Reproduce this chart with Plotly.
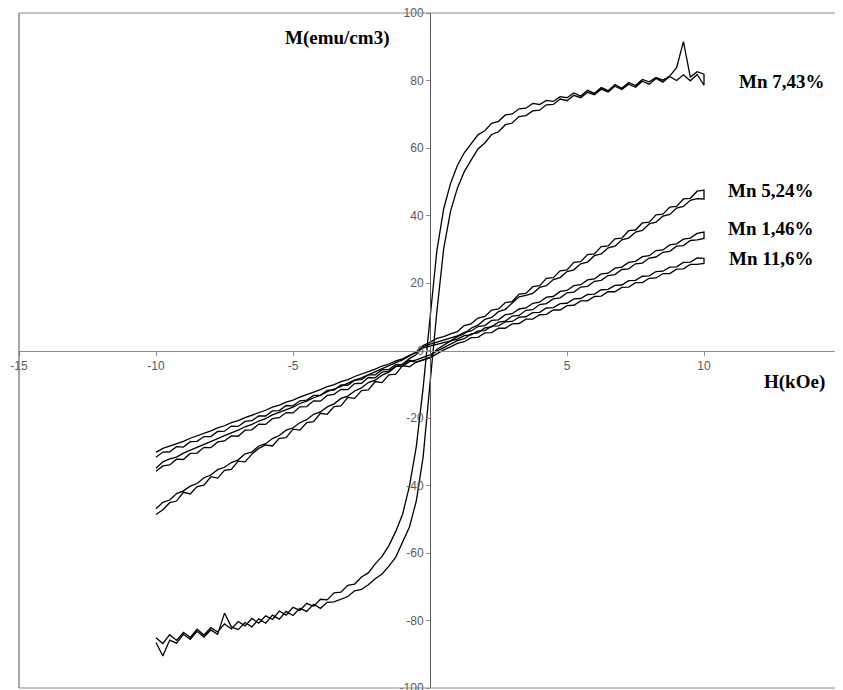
import plotly.graph_objects as go

# Applied field H (kOe)
H = [-10.0, -9.75, -9.5, -9.25, -9.0, -8.75, -8.5, -8.25, -8.0, -7.75,
     -7.5, -7.25, -7.0, -6.75, -6.5, -6.25, -6.0, -5.75, -5.5, -5.25,
     -5.0, -4.75, -4.5, -4.25, -4.0, -3.75, -3.5, -3.25, -3.0, -2.75,
     -2.5, -2.25, -2.0, -1.75, -1.5, -1.25, -1.0, -0.75, -0.5, -0.25,
     0.0,
     0.25, 0.5, 0.75, 1.0, 1.25, 1.5, 1.75, 2.0, 2.25, 2.5,
     2.75, 3.0, 3.25, 3.5, 3.75, 4.0, 4.25, 4.5, 4.75, 5.0,
     5.25, 5.5, 5.75, 6.0, 6.25, 6.5, 6.75, 7.0, 7.25, 7.5,
     7.75, 8.0, 8.25, 8.5, 8.75, 9.0, 9.25, 9.5, 9.75, 10.0]

# Mn 7,43 %  (emu/cm3)
mn743_up = [-86.5, -90.5, -85.8, -86.7, -84.1, -85.6, -83.2, -84.9, -82.8, -84.1,
            -77.8, -81.9, -82.7, -80.6, -81.9, -79.5, -80.8, -78.4, -79.6, -77.3,
            -78.5, -76.4, -77.3, -75.2, -76.4, -74.6, -74.5, -73.6, -72.9, -71.2,
            -70.8, -69.4, -67.6, -66.2, -63.9, -61.2, -57.0, -52.3, -44.6, -31.5,
            -9.8,
            11.5, 30.2, 41.3, 48.1, 53.0, 56.4, 59.7, 61.5, 64.0, 64.8,
            66.9, 67.4, 69.3, 69.6, 71.0, 71.2, 72.8, 72.9, 74.5, 74.0,
            75.6, 74.9, 76.5, 75.8, 77.4, 76.6, 78.3, 77.3, 78.9, 78.0,
            79.8, 78.9, 80.6, 79.5, 81.2, 80.0, 81.7, 79.9, 81.8, 78.6]
mn743_down = [-85.1, -86.8, -84.2, -85.9, -83.5, -85.0, -82.6, -84.3, -82.1, -83.4,
              -81.0, -82.5, -80.3, -81.6, -79.4, -80.8, -78.6, -79.7, -77.2, -78.4,
              -76.1, -77.0, -74.9, -75.8, -73.7, -73.9, -71.8, -71.6, -69.6, -69.2,
              -67.1, -65.9, -63.2, -61.0, -57.8, -53.6, -48.5, -40.2, -28.5, -11.0,
              9.5,
              29.5, 42.0, 49.5, 54.8, 58.6, 61.2, 63.9, 65.1, 67.3, 67.9,
              69.8, 70.1, 71.6, 71.8, 73.2, 72.9, 74.1, 73.8, 75.2, 74.9,
              76.3, 75.4, 77.1, 76.2, 77.9, 77.0, 78.8, 77.7, 79.4, 78.5,
              80.3, 79.6, 80.9, 80.1, 81.3, 83.8, 91.5, 81.0, 82.6, 81.9]

# Mn 5,24 %
mn524_up = [-48.6, -47.2, -45.1, -44.6, -42.0, -42.5, -40.3, -39.9, -37.4, -37.8,
            -35.5, -35.2, -32.8, -33.0, -30.7, -29.0, -28.0, -28.3, -26.0, -25.8,
            -23.3, -23.6, -21.4, -21.1, -18.6, -18.9, -16.6, -16.4, -13.9, -14.2,
            -11.9, -11.7, -9.2, -9.5, -7.2, -7.0, -4.5, -4.8, -3.4, -2.6,
            -2.0,
            0.3, 1.6, 2.8, 4.1, 5.0, 6.6, 7.5, 9.2, 9.8, 11.5,
            12.2, 14.0, 15.9, 16.3, 16.9, 18.7, 19.2, 21.0, 21.6, 23.4,
            23.9, 25.7, 26.2, 28.1, 28.6, 30.4, 30.9, 32.8, 33.3, 35.1,
            35.6, 37.5, 38.0, 39.8, 40.3, 42.2, 42.7, 44.5, 45.0, 44.9]
mn524_down = [-46.9, -45.0, -44.3, -42.4, -41.6, -40.2, -39.4, -37.7, -36.9, -35.3,
              -34.6, -33.2, -32.4, -30.6, -30.1, -28.3, -27.6, -26.1, -25.2, -23.6,
              -22.9, -21.4, -20.5, -18.9, -18.2, -16.7, -15.8, -14.2, -13.5, -12.0,
              -11.1, -9.5, -8.8, -7.3, -6.4, -4.8, -4.0, -2.4, -1.2, 1.5,
              2.4,
              3.6, 4.1, 4.9, 5.6, 7.4, 7.9, 9.6, 10.1, 12.0, 12.3,
              14.2, 14.5, 16.7, 16.9, 18.9, 19.2, 21.4, 21.6, 23.6, 23.9,
              26.1, 26.3, 28.4, 28.6, 30.8, 31.0, 33.1, 33.3, 35.5, 35.7,
              37.8, 38.0, 40.2, 40.4, 42.5, 42.7, 44.9, 45.1, 47.2, 47.5]

# Mn 1,46 %
mn146_up = [-35.8, -34.2, -33.9, -32.2, -32.3, -30.5, -30.4, -28.7, -28.8, -27.1,
            -26.8, -25.3, -25.4, -23.6, -23.5, -21.8, -21.9, -20.2, -19.9, -18.4,
            -18.5, -16.7, -16.6, -14.9, -15.0, -13.3, -13.0, -11.5, -11.6, -9.8,
            -9.7, -8.0, -8.1, -6.4, -6.1, -4.6, -4.7, -3.3, -2.8, -2.1,
            -1.3,
            -0.2, 0.9, 1.8, 2.9, 3.5, 4.9, 5.2, 6.7, 7.0, 8.4,
            8.7, 10.2, 10.4, 11.9, 12.1, 13.6, 13.9, 15.3, 15.6, 17.1,
            17.3, 18.8, 19.0, 20.5, 20.8, 22.2, 22.5, 24.0, 24.2, 25.7,
            25.9, 27.4, 27.7, 29.1, 29.4, 30.9, 31.1, 32.6, 32.8, 33.2]
mn146_down = [-34.9, -33.0, -32.1, -31.6, -30.4, -29.5, -28.8, -27.9, -27.0, -26.1,
              -25.2, -24.3, -23.6, -22.6, -21.9, -20.9, -20.2, -19.1, -18.3, -17.5,
              -16.8, -15.7, -15.0, -14.0, -13.3, -12.2, -11.4, -10.6, -9.8, -8.8,
              -8.1, -7.1, -6.4, -5.3, -4.5, -3.6, -2.8, -1.6, -0.4, 1.2,
              1.9,
              2.5, 3.0, 3.7, 4.3, 5.4, 5.8, 7.1, 7.4, 8.9, 9.1,
              10.6, 10.9, 12.3, 12.6, 14.0, 14.3, 15.8, 16.0, 17.5, 17.8,
              19.2, 19.5, 20.9, 21.2, 22.7, 22.9, 24.4, 24.7, 26.1, 26.4,
              27.8, 28.1, 29.6, 29.8, 31.3, 31.6, 33.0, 33.3, 34.7, 35.1]

# Mn 11,6 %
mn116_up = [-31.6, -30.1, -30.0, -28.5, -28.6, -27.0, -26.9, -25.5, -25.5, -24.0,
            -23.9, -22.4, -22.5, -21.0, -20.8, -19.4, -19.4, -17.9, -17.8, -16.3,
            -16.4, -14.9, -14.7, -13.3, -13.3, -11.8, -11.7, -10.2, -10.3, -8.8,
            -8.6, -7.2, -7.2, -5.7, -5.6, -4.1, -4.2, -2.9, -3.5, -2.9,
            -2.2,
            -1.0, 0.2, 1.1, 2.1, 2.6, 3.8, 3.9, 5.2, 5.3, 6.6,
            6.6, 7.9, 8.0, 9.3, 9.3, 10.6, 10.7, 12.0, 12.0, 13.3,
            13.4, 14.7, 14.7, 16.0, 16.1, 17.4, 17.4, 18.7, 18.8, 20.1,
            20.1, 21.4, 21.5, 22.8, 22.8, 24.1, 24.2, 25.5, 25.5, 25.8]
mn116_down = [-30.2, -29.0, -28.4, -27.6, -26.9, -26.0, -25.3, -24.5, -23.8, -22.9,
              -22.3, -21.4, -20.8, -19.9, -19.2, -18.4, -17.7, -16.8, -16.2, -15.3,
              -14.7, -13.8, -13.1, -12.3, -11.6, -10.7, -10.1, -9.2, -8.6, -7.7,
              -7.0, -6.2, -5.5, -4.6, -4.0, -3.1, -2.5, -1.4, -0.6, 0.8,
              1.4,
              1.9, 2.3, 2.9, 3.4, 4.4, 4.6, 5.8, 5.9, 7.2, 7.3,
              8.5, 8.6, 9.9, 10.0, 11.2, 11.3, 12.6, 12.7, 13.9, 14.0,
              15.3, 15.4, 16.6, 16.7, 18.0, 18.1, 19.3, 19.4, 20.7, 20.8,
              22.0, 22.1, 23.4, 23.5, 24.7, 24.8, 26.1, 26.2, 27.4, 27.3]

series = [
    ("Mn 7,43%", mn743_up, mn743_down),
    ("Mn 5,24%", mn524_up, mn524_down),
    ("Mn 1,46%", mn146_up, mn146_down),
    ("Mn 11,6%", mn116_up, mn116_down),
]

X_TICKS = [-15, -10, -5, 5, 10, 15]
X_TICK_TEXT = ["-15", "-10", "-5", "5", "10", "15"]
Y_TICKS = [-100, -80, -60, -40, -20, 0, 20, 40, 60, 80, 100]
Y_TICK_TEXT = ["-100", "-80", "-60", "-40", "-20", "0", "20", "40", "60", "80", "100"]

# label positions (data coords)
labels = [
    ("M(emu/cm3)", -3.4, 92.7),
    ("Mn 7,43%", 12.85, 79.8),
    ("Mn 5,24%", 12.45, 47.4),
    ("Mn 1,46%", 12.45, 36.1),
    ("Mn 11,6%", 12.45, 27.3),
    ("H(kOe)", 13.3, -9.2),
]

fig = go.Figure()
for name, up, down in series:
    fig.add_trace(go.Scatter(
        x=H + H[::-1], y=up + down[::-1], mode="lines", name=name,
        line=dict(color="black", width=1.3), showlegend=False,
    ))

tick_font = dict(family="Arial, Liberation Sans, sans-serif", size=12, color="#595959")

# the page body adds an 8px offset, so the figure is sized to fit the window
fig.update_layout(
    width=835, height=682,
    margin=dict(l=11, r=2, t=5, b=2, autoexpand=False),
    paper_bgcolor="white", plot_bgcolor="white",
    xaxis=dict(range=[-15, 15], anchor="free", position=0.5, automargin=False,
               showline=True, linecolor="#8c8c8c", linewidth=1,
               ticks="outside", ticklen=4, tickcolor="#8c8c8c",
               tickvals=X_TICKS, ticktext=X_TICK_TEXT, ticklabeloverflow="allow",
               showgrid=False, zeroline=False, tickfont=tick_font),
    yaxis=dict(range=[-100, 100], anchor="free", position=0.5, automargin=False,
               showline=True, linecolor="#595959", linewidth=1,
               ticks="outside", ticklen=4, tickcolor="#8c8c8c",
               tickvals=Y_TICKS, ticktext=Y_TICK_TEXT, ticklabeloverflow="allow",
               showgrid=False, zeroline=False, tickfont=tick_font),
)

# plot-area frame
fig.add_shape(type="line", xref="paper", yref="paper", x0=0, x1=1, y0=1, y1=1,
              line=dict(color="#8c8c8c", width=1))
fig.add_shape(type="line", xref="paper", yref="paper", x0=0, x1=1, y0=0, y1=0,
              line=dict(color="#8c8c8c", width=1))
fig.add_shape(type="line", xref="paper", yref="paper", x0=0, x1=0, y0=0, y1=1,
              line=dict(color="#505050", width=1))
fig.add_shape(type="line", xref="paper", yref="paper", x0=1, x1=1, y0=0, y1=1,
              line=dict(color="#505050", width=1))

for text, lx, ly in labels:
    fig.add_annotation(x=lx, y=ly, xref="x", yref="y", text="<b>%s</b>" % text,
                       showarrow=False,
                       font=dict(family="Liberation Serif, Times New Roman, serif",
                                 size=19, color="black"))

fig.write_html("out.html")
